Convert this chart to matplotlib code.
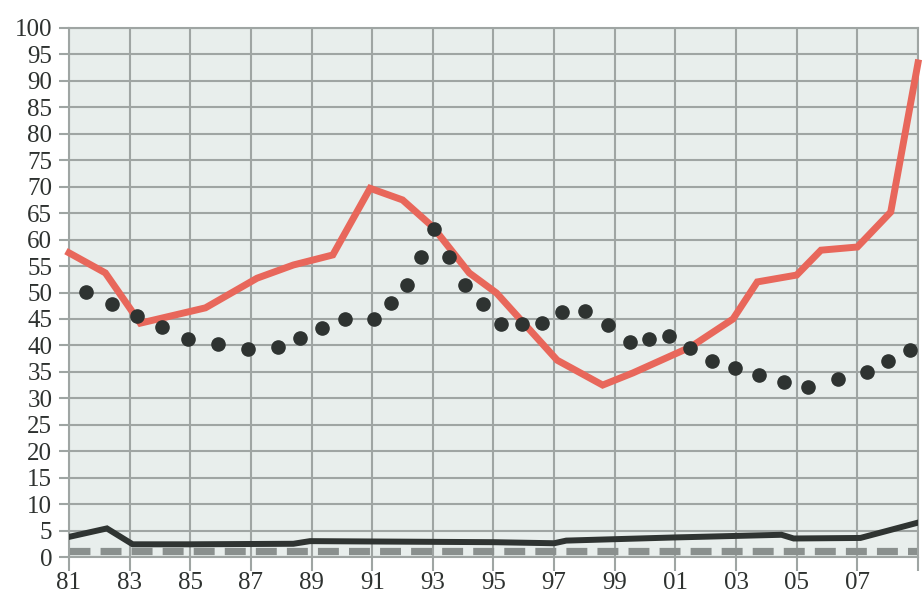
import matplotlib
matplotlib.use("Agg")
import matplotlib.pyplot as plt

# Red line (fractional year, value)
red_x = [1981.0, 1982.2, 1983.35, 1985.5, 1987.2, 1988.4, 1989.7, 1990.93, 1992.0,
         1993.0, 1994.2, 1995.1, 1997.1, 1998.6, 1999.6, 2001.5, 2002.9, 2003.7,
         2005.0, 2005.8, 2007.0, 2008.1, 2009.0]
red_y = [57.5, 53.7, 44.2, 47.1, 52.7, 55.2, 57.1, 69.7, 67.5,
         62.4, 53.7, 49.9, 37.2, 32.5, 34.8, 39.7, 45.0, 52.0,
         53.3, 58.0, 58.6, 65.2, 93.4]

# Dotted series
dot_x = [1981.56, 1982.42, 1983.24, 1984.07, 1984.92, 1985.91, 1986.9, 1987.89, 1988.62,
         1989.34, 1990.1, 1991.05, 1991.62, 1992.16, 1992.62, 1993.05, 1993.53, 1994.06,
         1994.65, 1995.25, 1995.94, 1996.6, 1997.26, 1998.02, 1998.78, 1999.5, 2000.13,
         2000.79, 2001.48, 2002.21, 2002.97, 2003.76, 2004.58, 2005.37, 2006.36, 2007.32,
         2008.01, 2008.74]
dot_y = [50.1, 47.8, 45.6, 43.5, 41.2, 40.3, 39.3, 39.7, 41.4,
         43.2, 44.9, 44.9, 48.1, 51.4, 56.7, 62.0, 56.7, 51.4,
         47.8, 44.0, 44.0, 44.3, 46.3, 46.5, 43.8, 40.6, 41.3,
         41.8, 39.5, 37.1, 35.7, 34.4, 33.1, 32.1, 33.6, 35.0,
         37.1, 39.1]

# Dark solid line
blk_x = [1981.0, 1982.25, 1983.1, 1985.0, 1988.4, 1988.95, 1995.0, 1997.0, 1997.4,
         2001.0, 2004.5, 2004.9, 2007.1, 2009.0]
blk_y = [3.8, 5.4, 2.4, 2.4, 2.5, 3.0, 2.8, 2.6, 3.1,
         3.7, 4.2, 3.5, 3.6, 6.5]

# Dashed line
dash_x = [1981.0, 2009.0]
dash_y = [1.2, 1.2]

x_ticks = [1981, 1983, 1985, 1987, 1989, 1991, 1993, 1995, 1997, 1999, 2001, 2003,
           2005, 2007, 2009]
x_labels = ["81", "83", "85", "87", "89", "91", "93", "95", "97", "99", "01", "03",
            "05", "07", ""]
y_ticks = list(range(0, 101, 5))

grid_c = "#9fa5a3"
fig = plt.figure(figsize=(9.23, 5.99), dpi=100)
fig.patch.set_facecolor("white")
ax = fig.add_axes([69/923, 1-557/599, (918-69)/923, (557-28)/599])
ax.set_facecolor("#e8eeec")

ax.set_xlim(1981, 2009)
ax.set_ylim(0, 100)
ax.set_xticks(x_ticks)
ax.set_xticklabels(x_labels)
ax.set_yticks(y_ticks)
ax.grid(True, color=grid_c, linewidth=1.5, zorder=0)
ax.set_axisbelow(True)
for s in ax.spines.values():
    s.set_color(grid_c)
    s.set_linewidth(1.5)
ax.tick_params(axis="both", color=grid_c, width=1.5,
               labelsize=18, labelcolor="#2e3230")
ax.tick_params(axis="x", length=10, pad=1)
ax.tick_params(axis="y", length=7, pad=5)
for lab in ax.get_xticklabels() + ax.get_yticklabels():
    lab.set_family("Liberation Serif")

ax.plot(dash_x, dash_y, color="#8a908e", linewidth=5.2, dashes=(2.9, 1.4),
        solid_capstyle="butt", zorder=2)
ax.plot(blk_x, blk_y, color="#2f3432", linewidth=4.3, zorder=3,
        solid_joinstyle="miter")
ax.plot(red_x, red_y, color="#e8675b", linewidth=5, zorder=4,
        solid_joinstyle="miter", clip_on=False)
ax.plot(dot_x, dot_y, linestyle="none", marker="o", markersize=9.5,
        color="#2e3331", zorder=5)

fig.savefig("out.png", dpi=100)
